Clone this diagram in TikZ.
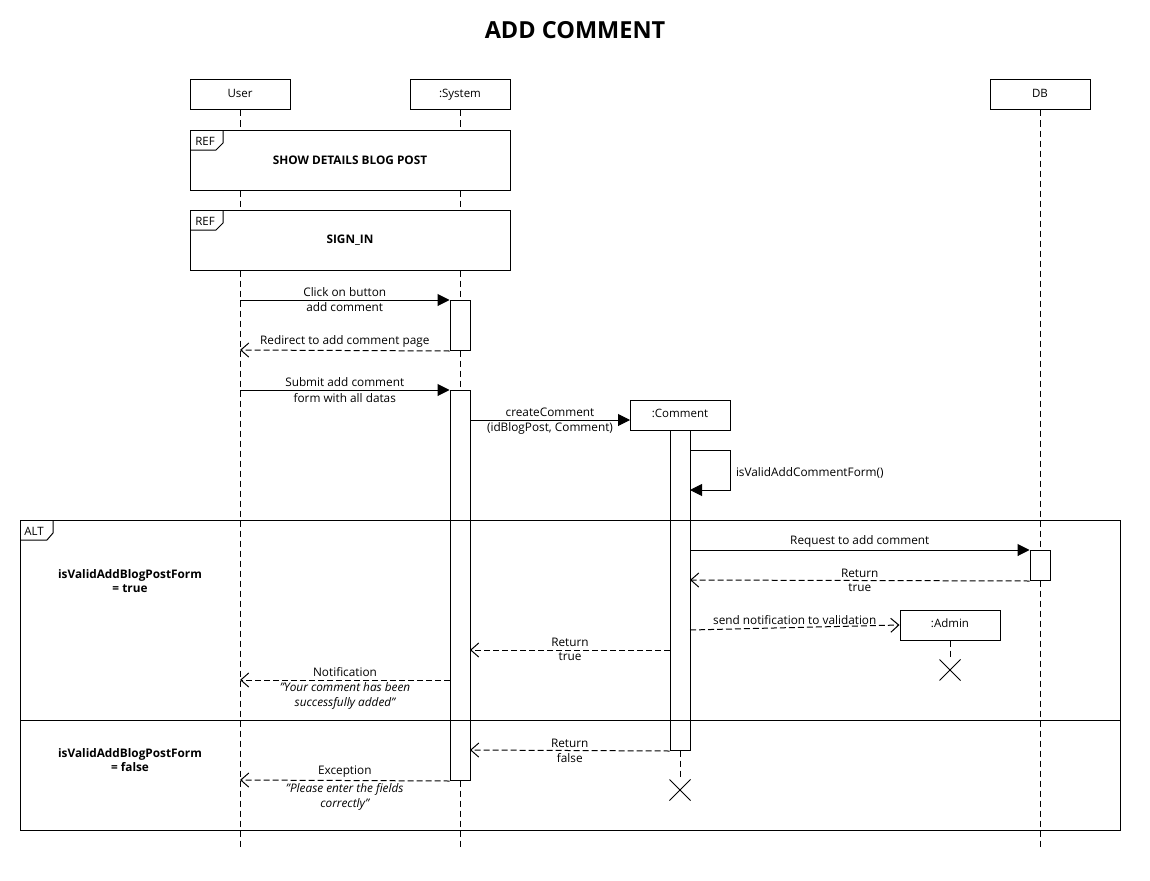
\documentclass[tikz,border=0pt]{standalone}
\usepackage{fontspec}
\setmainfont{Open Sans}
\usetikzlibrary{arrows.meta,calc,shapes.misc}

\tikzset{
  participant/.style={draw, fill=white, minimum width=100pt, minimum height=30pt,
    inner sep=0pt, text height=8pt, text depth=3.8pt, font=\fontsize{11.5}{14}\selectfont},
  actbar/.style={draw, fill=white, minimum width=20pt, inner sep=0pt},
  lifeline/.style={dash pattern=on 6pt off 4pt},
  sync/.style={-{Triangle[length=12pt,width=12pt]}},
  reply/.style={dash pattern=on 6pt off 3pt, -{Straight Barb[length=8pt,width=14pt]}},
  lbl/.style={font=\fontsize{11.8}{15}\selectfont, inner sep=2.5pt, align=center},
  ilbl/.style={lbl, font=\itshape\fontsize{11.8}{15}\selectfont},
  guard/.style={font=\bfseries\fontsize{11.8}{14}\selectfont, align=center},
  tag/.style={font=\fontsize{11.5}{14}\selectfont},
  destroy/.style={draw, cross out, minimum size=20pt, inner sep=0pt},
  framebox/.style={draw, fill=white, anchor=north west, minimum width=320pt,
    minimum height=60pt, inner sep=0pt},
}

\begin{document}
\begin{tikzpicture}[x=1pt, y=-1pt, line width=1pt]
\useasboundingbox (0,0) rectangle (1150,880);

% title
\node[font=\bfseries\fontsize{23.5}{28}\selectfont] (title) at (575,30) {ADD COMMENT};

% participants
\node[participant] (user) at (240,95) {User};
\node[participant] (sys)  at (460,95) {:System};
\node[participant] (db)   at (1040,95) {DB};

% lifelines
\coordinate (userEnd) at (240,850);
\coordinate (sysEnd)  at (460,850);
\coordinate (dbEnd)   at (1040,850);
\draw[lifeline] (user.south) -- (userEnd);
\draw[lifeline] (sys.south) -- (sysEnd);
\draw[lifeline] (db.south) -- (dbEnd);

% interaction references
\node[framebox] (ref1) at (190,130) {};
\draw (190,150) -- (216,150) -- (223,143) -- (223,130);
\node[tag] (ref1tag) at (205,141) {REF};
\node[font=\bfseries\fontsize{11.8}{14}\selectfont] (ref1txt) at (350,160) {SHOW DETAILS BLOG POST};

\node[framebox] (ref2) at (190,210) {};
\draw (190,230) -- (216,230) -- (223,223) -- (223,210);
\node[tag] (ref2tag) at (205,221) {REF};
\node[font=\bfseries\fontsize{11.8}{14}\selectfont] (ref2txt) at (350,240) {SIGN\_IN};

% :Comment participant
\node[participant] (cmt) at (680,415) {:Comment};
\coordinate (cmtEnd) at (680,780);
\draw[lifeline] (cmt.south) -- (cmtEnd);
\node[destroy] (cmtX) at (680,790) {};

% :Admin participant
\node[participant] (adm) at (950,625) {:Admin};
\coordinate (admEnd) at (950,660);
\draw[lifeline] (adm.south) -- (admEnd);
\node[destroy] (admX) at (950,670) {};

% activation bars
\node[actbar, minimum height=50pt, anchor=north] (a1) at (460,300) {};
\node[actbar, minimum height=390pt, anchor=north] (a2) at (460,390) {};
\node[actbar, minimum height=320pt, anchor=north] (a3) at (680,430) {};
\node[actbar, minimum height=30pt, anchor=north] (a4) at (1040,550) {};

% alt fragment
\node[draw, anchor=north west, minimum width=1100pt, minimum height=310pt, inner sep=0pt] (alt) at (20,520) {};
\draw (20,540) -- (47,540) -- (53,533) -- (53,520);
\node[tag] (alttag) at (34,531) {ALT};
\coordinate (divL) at (20,720);
\coordinate (divR) at (1120,720);
\draw (divL) -- (divR);
\node[guard] (g1) at (130,581) {isValidAddBlogPostForm\\= true};
\node[guard] (g2) at (130,760) {isValidAddBlogPostForm\\= false};

% points on the lifelines
\coordinate (u1) at (240,300);
\coordinate (u2) at (240,350);
\coordinate (u3) at (240,390);
\coordinate (u4) at (240,680);
\coordinate (u5) at (240,780);
\coordinate (s1) at (470,420);
\coordinate (s2) at (470,650);
\coordinate (s3) at (470,750);
\coordinate (n1) at (450,680);
\coordinate (c1) at (690,450);
\coordinate (c2) at (690,490);
\coordinate (c3) at (690,550);
\coordinate (c4) at (690,580);
\coordinate (c5) at (690,630);
\coordinate (c6) at (670,650);
\coordinate (cmtIn) at (630,420);

% messages
\draw[sync] (u1) -- (a1.north west)
  node[lbl, midway, above] {Click on button}
  node[lbl, midway, below] {add comment};
\draw[reply] (a1.south west) -- (u2)
  node[lbl, midway, above] {Redirect to add comment page};
\draw[sync] (u3) -- (a2.north west)
  node[lbl, midway, above] {Submit add comment}
  node[lbl, midway, below] {form with all datas};
\draw[sync] (s1) -- (cmtIn)
  node[lbl, midway, above] {createComment}
  node[lbl, midway, below] {(idBlogPost, Comment)};
\draw[sync] (c1) -- ++(40,0) |- (c2);
\node[lbl, anchor=west] (selflbl) at (733,473) {isValidAddCommentForm()};
\draw[sync] (c3) -- (a4.north west)
  node[lbl, midway, above] {Request to add comment};
\draw[reply] (a4.south west) -- (c4)
  node[lbl, midway, above] {Return}
  node[lbl, midway, below] {true};
\draw[reply] (c5) -- (adm.west)
  node[lbl, midway, above] {send notification to validation};
\draw[reply] (c6) -- (s2)
  node[lbl, midway, above] {Return}
  node[lbl, midway, below] {true};
\draw[reply] (n1) -- (u4)
  node[lbl, midway, above] {Notification}
  node[ilbl, midway, below] {"Your comment has been\\successfully added"};
\draw[reply] (a3.south west) -- (s3)
  node[lbl, midway, above] {Return}
  node[lbl, midway, below] {false};
\draw[reply] (a2.south west) -- (u5)
  node[lbl, midway, above] {Exception}
  node[ilbl, midway, below] {"Please enter the fields\\correctly"};
\end{tikzpicture}
\end{document}
